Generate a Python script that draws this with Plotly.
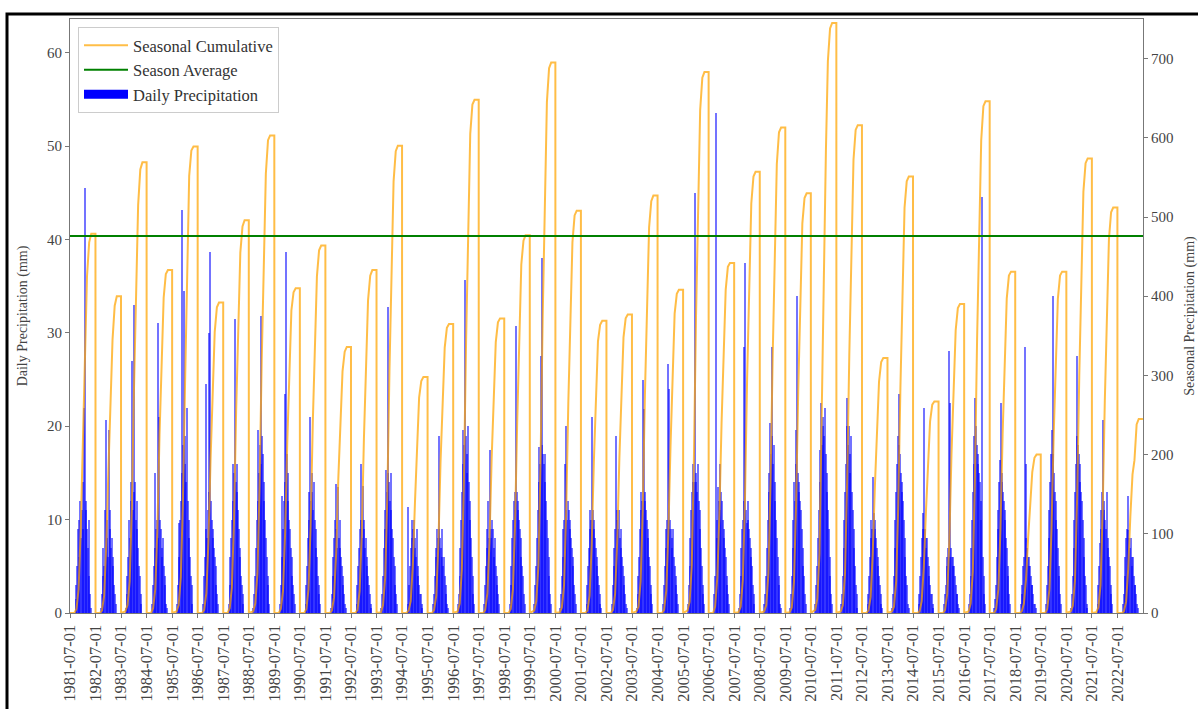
import numpy as np
import pandas as pd
import plotly.graph_objects as go

# Rainfall seasons run 1 July -> 30 June; each entry is the starting year
season_years = list(range(1981, 2023))

# Seasonal totals (mm) reached at the end of each season
season_totals_mm = [479, 400, 569, 433, 589, 392, 496, 603, 410, 464,
                    336, 433, 590, 298, 365, 648, 372, 477, 695, 508,
                    369, 377, 527, 408, 683, 442, 557, 613, 530, 745,
                    616, 322, 551, 267, 390, 646, 431, 200, 431, 574,
                    512, 245]

# Running seasonal total (mm) on the first day of Sep..Apr
cum_checkpoints = ["09-01", "10-01", "11-01", "12-01",
                   "01-01", "02-01", "03-01", "04-01"]
cum_values_mm = [
    [0, 5, 30, 105, 225, 335, 425, 468],
    [0, 3, 22, 85, 180, 270, 345, 388],
    [2, 10, 40, 130, 280, 410, 515, 560],
    [0, 6, 30, 105, 225, 325, 398, 428],
    [2, 10, 45, 140, 290, 415, 552, 584],
    [0, 4, 25, 90, 195, 285, 355, 386],
    [0, 6, 32, 115, 255, 370, 455, 488],
    [2, 12, 50, 160, 320, 455, 555, 597],
    [0, 5, 28, 100, 215, 315, 382, 405],
    [0, 5, 30, 110, 240, 345, 425, 458],
    [0, 3, 20, 75, 170, 245, 305, 330],
    [0, 4, 28, 100, 220, 315, 395, 426],
    [1, 10, 45, 145, 305, 445, 545, 583],
    [0, 3, 15, 60, 140, 215, 272, 293],
    [0, 4, 22, 85, 190, 275, 335, 360],
    [2, 12, 55, 170, 345, 495, 605, 642],
    [0, 4, 25, 90, 195, 280, 342, 367],
    [0, 5, 30, 110, 240, 355, 440, 470],
    [3, 15, 60, 190, 375, 535, 645, 688],
    [1, 7, 35, 125, 265, 385, 468, 502],
    [0, 3, 22, 85, 190, 280, 343, 364],
    [0, 4, 24, 90, 195, 285, 348, 372],
    [2, 8, 40, 130, 275, 395, 487, 520],
    [0, 4, 28, 100, 210, 305, 378, 403],
    [3, 14, 60, 190, 375, 525, 635, 676],
    [0, 8, 45, 125, 240, 335, 408, 437],
    [1, 8, 42, 140, 295, 425, 517, 551],
    [2, 10, 50, 165, 325, 465, 567, 607],
    [1, 7, 40, 135, 280, 395, 492, 524],
    [4, 18, 75, 220, 415, 585, 697, 738],
    [2, 10, 50, 165, 325, 465, 572, 610],
    [0, 3, 20, 75, 160, 235, 292, 317],
    [2, 8, 40, 135, 285, 415, 512, 545],
    [0, 2, 15, 58, 128, 190, 242, 263],
    [0, 4, 24, 90, 200, 290, 357, 385],
    [2, 12, 52, 170, 345, 485, 597, 640],
    [0, 5, 30, 105, 225, 320, 397, 426],
    [0, 2, 12, 42, 95, 142, 178, 196],
    [0, 5, 30, 105, 225, 320, 397, 426],
    [2, 9, 42, 145, 300, 435, 532, 568],
    [1, 7, 35, 128, 268, 385, 472, 506],
    [0, 2, 14, 55, 122, 175, 193, 238],
]

# Rain days sampled through each season (days after 1 July)
rain_day_offsets = [66, 81, 92, 103, 114, 125, 136, 147, 158, 169, 180,
                    191, 202, 213, 224, 235, 246, 257, 268, 279, 290, 301]
daily_mm = [
    [0, 1.5, 3, 5, 9, 6, 10, 12, 8, 11, 9, 14, 22, 45.5, 11, 12, 9, 7, 10, 4, 2, 0.5],
    [0, 0.5, 2, 4, 7, 5, 11, 20.7, 8, 10, 6, 19.6, 11, 9, 7, 8, 5, 6, 3, 2, 1, 0],
    [0.5, 2, 4, 6, 10, 8, 12, 14, 27, 11, 13, 33, 14, 10, 12, 9, 7, 5, 4, 2, 1, 0],
    [0, 1, 3, 5, 15, 7, 9, 10, 31, 8, 21, 10, 9, 7, 6, 8, 5, 4, 3, 1, 0.5, 0],
    [1, 3, 9.6, 6, 10, 12, 43.2, 15, 18, 34.5, 19, 16, 14, 22, 12, 10, 8, 6, 4, 3, 1, 0],
    [0, 1, 4, 6, 9, 24.5, 8, 11, 13, 30, 38.7, 12, 10, 9, 8, 7, 6, 5, 3, 2, 1, 0],
    [0, 1, 3, 6, 8, 10, 16, 12, 15, 31.5, 14, 16, 13, 11, 9, 7, 6, 4, 3, 2, 1, 0],
    [0.5, 2, 4, 7, 10, 12, 19.6, 15, 18, 16, 31.8, 19, 17, 14, 12, 10, 8, 6, 4, 3, 1, 0],
    [0, 1, 3, 12.5, 6, 9, 12, 14, 23.5, 38.6, 17, 15, 12, 10, 9, 7, 6, 4, 3, 2, 1, 0],
    [0, 1, 3, 5, 8, 10, 13, 21, 12, 15, 13, 11, 14, 10, 9, 7, 6, 4, 3, 2, 1, 0],
    [0, 0.5, 2, 4, 6, 8, 10, 13.8, 9, 7, 13.5, 8, 10, 7, 6, 5, 4, 3, 2, 1, 0.5, 0],
    [0, 1, 3, 5, 7, 9, 10, 16, 8, 13.6, 10, 9, 7, 8, 6, 5, 4, 3, 2, 1, 0.5, 0],
    [0.5, 2, 4, 7, 9, 11, 15.3, 13, 32.8, 15, 14, 12, 15, 11, 9, 8, 6, 5, 3, 2, 1, 0],
    [0, 1, 11.4, 3, 5, 7, 10, 8, 9, 10, 7, 8, 6, 9, 5, 4, 3, 2, 2, 1, 0.5, 0],
    [0, 1, 2, 4, 6, 7, 9, 8, 19, 9, 8, 7, 9, 6, 5, 6, 4, 3, 2, 1, 0.5, 0],
    [1, 2, 4, 7, 10, 13, 16, 19.6, 18, 35.7, 19, 17, 15, 20, 14, 12, 10, 8, 6, 4, 2, 1],
    [0, 1, 3, 5, 7, 9, 12, 8, 17.5, 9, 8, 10, 9, 7, 6, 8, 5, 4, 3, 2, 1, 0],
    [0, 1, 3, 5, 8, 10, 12, 13, 11, 30.7, 13, 12, 11, 10, 9, 8, 6, 5, 4, 2, 1, 0],
    [1, 3, 5, 8, 11, 14, 17.8, 16, 27.5, 18, 38, 17, 16, 14, 17, 12, 10, 8, 6, 4, 2, 1],
    [0.5, 2, 4, 6, 9, 10, 16, 11, 20, 10, 12, 11, 9, 10, 8, 7, 6, 5, 3, 2, 1, 0],
    [0, 1, 3, 5, 7, 9, 11, 10, 21, 11, 9, 10, 8, 7, 6, 5, 4, 3, 2, 1, 0.5, 0],
    [0, 1, 3, 5, 7, 9, 19, 11, 10, 9, 11, 8, 9, 7, 6, 5, 4, 3, 2, 1, 0.5, 0],
    [0.5, 2, 4, 6, 9, 11, 13, 12, 25, 21.8, 13, 12, 11, 10, 9, 8, 6, 5, 3, 2, 1, 0],
    [0, 1, 3, 5, 7, 9, 10, 26.7, 9, 24, 10, 9, 8, 7, 9, 6, 5, 4, 3, 2, 1, 0],
    [1, 3, 5, 8, 11, 13, 14, 16, 14, 45, 15, 14, 13, 16, 12, 11, 9, 7, 5, 3, 2, 1],
    [0, 2, 4, 53.5, 8, 10, 13.5, 12, 16, 11, 13, 12, 10, 9, 8, 7, 6, 4, 3, 2, 1, 0],
    [0.5, 2, 4, 7, 9, 10, 28.5, 12, 37.5, 11, 9.6, 12, 10, 9, 8, 7, 6, 5, 3, 2, 1, 0],
    [1, 2, 4, 7, 10, 13, 15, 20.3, 17, 28.5, 19, 16, 18, 14, 12, 10, 8, 6, 4, 3, 1, 0.5],
    [0.5, 2, 4, 7, 10, 14, 12, 19.6, 16, 33.9, 15, 14, 13, 12, 11, 9, 7, 5, 4, 2, 1, 0],
    [1, 3, 5, 8, 11, 14, 17.5, 22.5, 18, 21, 20, 19, 22, 17, 15, 13, 11, 9, 6, 4, 2, 1],
    [1, 2, 4, 7, 10, 13, 16, 20, 23, 18, 20, 17, 15, 19, 13, 11, 9, 7, 5, 3, 2, 0.5],
    [0, 1, 2, 4, 6, 8, 10, 9, 14.6, 10.7, 9, 10, 8, 7, 6, 5, 4, 3, 2, 1, 0.5, 0],
    [0.5, 2, 4, 7, 10, 13, 16, 19, 23.5, 18, 17, 15, 14, 13, 12, 10, 8, 6, 4, 3, 1, 0.5],
    [0, 1, 2, 4, 6, 8, 9, 10.7, 22, 9, 8, 7, 8, 6, 5, 4, 3, 2, 2, 1, 0.5, 0],
    [0, 1, 2, 3, 5, 6, 7, 28, 6, 22.5, 7, 6, 5, 6, 5, 4, 3, 2, 2, 1, 0.5, 0],
    [1, 2, 4, 7, 10, 13, 16, 19, 23, 20, 18, 17, 16, 15, 14, 12, 10, 44.5, 6, 4, 2, 1],
    [0.5, 1.5, 3, 6, 9, 11, 14, 16.4, 22.5, 15, 14, 13, 12, 11, 10, 8, 7, 5, 4, 2, 1, 0],
    [0, 1, 2, 3, 5, 6, 28.5, 8, 16, 7, 6, 5, 6, 5, 4, 3, 3, 2, 1, 1, 0.5, 0],
    [0, 1, 3, 5, 8, 11, 14, 17, 19.6, 33.9, 17, 15, 13, 12, 10, 9, 7, 5, 4, 2, 1, 0],
    [0.5, 2, 4, 7, 10, 13, 16, 19, 27.5, 18, 17, 16, 14, 13, 12, 10, 8, 6, 4, 3, 1, 0.5],
    [0, 1, 3, 5, 7.5, 9, 11, 13, 20.7, 12, 11, 10, 9, 13, 8, 7, 6, 5, 3, 2, 1, 0],
    [0, 1, 2, 4, 6, 8, 9, 8.9, 12.5, 8, 7, 8, 6, 5, 6, 4, 3, 3, 2, 1, 0.5, 0],
]

# ---- daily bars ----
bar_x, bar_y = [], []
for year, row in zip(season_years, daily_mm):
    start = pd.Timestamp(f"{year}-07-01")
    for d, v in zip(rain_day_offsets, row):
        bar_x.append(start + pd.Timedelta(days=d))
        bar_y.append(v)

# ---- seasonal cumulative line (resets every 1 July) ----
cum_x, cum_y = [], []
for year, total, row in zip(season_years, season_totals_mm, cum_values_mm):
    cum_x.append(pd.Timestamp(f"{year}-07-01"))
    cum_y.append(0)
    for md, v in zip(cum_checkpoints, row):
        y = year if int(md[:2]) >= 7 else year + 1
        cum_x.append(pd.Timestamp(f"{y}-{md}"))
        cum_y.append(v)
    cum_x.append(pd.Timestamp(f"{year + 1}-05-01"))
    cum_y.append(total)
    cum_x.append(pd.Timestamp(f"{year + 1}-06-30"))
    cum_y.append(total)

season_average = float(np.mean(season_totals_mm))
x_start = pd.Timestamp(f"{season_years[0]}-07-01")
x_end = pd.Timestamp(f"{season_years[-1] + 1}-07-01")
tick_dates = [pd.Timestamp(f"{y}-07-01") for y in season_years]

fig = go.Figure()

fig.add_trace(go.Bar(
    x=bar_x, y=bar_y, width=16 * 86400000,
    marker=dict(color="blue", opacity=0.55, line=dict(width=0)),
    showlegend=False, hoverinfo="skip", yaxis="y",
))
fig.add_trace(go.Scatter(
    x=cum_x, y=cum_y, mode="lines", name="Seasonal Cumulative",
    line=dict(color="orange", width=2), opacity=0.72, yaxis="y2",
))
fig.add_trace(go.Scatter(
    x=[x_start, x_end], y=[season_average, season_average], mode="lines",
    name="Season Average", line=dict(color="green", width=2), yaxis="y2",
))
# legend swatch for the daily bars
fig.add_trace(go.Scatter(
    x=[None], y=[None], mode="lines", name="Daily Precipitation",
    line=dict(color="blue", width=9), yaxis="y",
))

# plot-area geometry in pixels
W, H = 1198, 709
L, R, T, B = 70, 1143, 19, 613
pw, ph = R - L, B - T


def px_to_paper(x, y):
    return (x - L) / pw, (B - y) / ph


fx0, fy0 = px_to_paper(7, 14)
fx1, fy1 = px_to_paper(W + 5, H + 5)
fig.add_shape(type="rect", xref="paper", yref="paper",
              x0=fx0, x1=fx1, y0=fy1, y1=fy0,
              line=dict(color="black", width=3), fillcolor="rgba(0,0,0,0)",
              layer="above")

axis_col = "#777777"
text_col = "#444444"
serif = "Liberation Serif, Times New Roman, serif"

fig.update_layout(
    width=W, height=H,
    margin=dict(l=L, r=W - R, t=T, b=H - B, autoexpand=False),
    paper_bgcolor="white", plot_bgcolor="white",
    font=dict(family=serif, size=15, color=text_col),
    bargap=0,
    legend=dict(
        x=px_to_paper(78, 0)[0], y=px_to_paper(0, 27)[1],
        xanchor="left", yanchor="top",
        bgcolor="rgba(255,255,255,0.85)", bordercolor="#cccccc", borderwidth=1,
        font=dict(family=serif, size=16.5, color="#333333"),
        tracegroupgap=0, itemwidth=44,
    ),
    xaxis=dict(
        type="date", range=[x_start, x_end], automargin=False,
        tickvals=tick_dates, ticktext=[d.strftime("%Y-%m-%d") for d in tick_dates],
        tickangle=-90, ticks="outside", ticklen=4, tickcolor=axis_col,
        tickfont=dict(size=16.5, color=text_col),
        showline=True, linecolor=axis_col, linewidth=1.2, mirror=True,
        showgrid=False, zeroline=False,
    ),
    yaxis=dict(
        range=[0, 63.6], tickvals=[0, 10, 20, 30, 40, 50, 60], automargin=False,
        ticks="outside", ticklen=4, tickcolor=axis_col,
        tickfont=dict(size=15, color=text_col),
        showline=True, linecolor=axis_col, linewidth=1.2, mirror=True,
        showgrid=False, zeroline=False,
        title=dict(text="Daily Precipitation (mm)", standoff=16,
                   font=dict(size=14, color=text_col)),
    ),
    yaxis2=dict(
        overlaying="y", side="right", range=[0, 750], automargin=False,
        tickvals=[0, 100, 200, 300, 400, 500, 600, 700],
        ticks="outside", ticklen=4, tickcolor=axis_col,
        tickfont=dict(size=15, color=text_col),
        showline=True, linecolor=axis_col, linewidth=1.2,
        showgrid=False, zeroline=False,
        title=dict(text="Seasonal Precipitation (mm)", standoff=25,
                   font=dict(size=14, color=text_col)),
    ),
)

fig.write_html("out.html")
